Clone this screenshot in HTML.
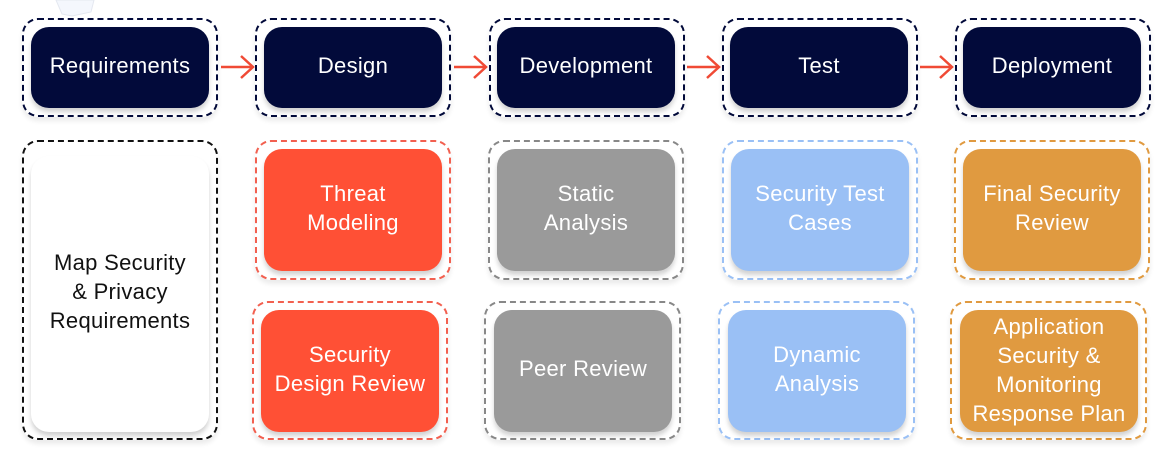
<!DOCTYPE html>
<html><head><meta charset="utf-8"><style>
body{margin:0;width:1167px;height:454px;background:#fff;position:relative;overflow:hidden;font-family:"Liberation Sans",sans-serif}
.o{position:absolute;border:2px dashed;border-radius:16px;box-sizing:border-box;box-shadow:0 4px 5px rgba(0,0,0,0.08)}
.i{position:absolute;border-radius:18px;display:flex;align-items:center;justify-content:center;text-align:center;color:#fff;font-size:22px;letter-spacing:0.3px;line-height:29px;box-sizing:border-box;padding-bottom:5px;box-shadow:0 4px 5px rgba(0,0,0,0.18)}
.n{background:#020a3a}.r{background:#ff5035}.g{background:#9a9a9a}.b{background:#9ac0f5}.y{background:#e09a40}
</style></head><body>
<svg style="position:absolute;left:0;top:0" width="1167" height="454">
<polygon points="56,0 94,0 91,12 72,16 62,14" fill="#f4f7fd" stroke="#e4e8f0"/>
<g stroke="#f04a35" stroke-width="2.5" fill="none">
<path d="M221 67H253M241 56L253 67L241 78"/>
<path d="M454 67H486M474 56L486 67L474 78"/>
<path d="M687 67H719M707 56L719 67L707 78"/>
<path d="M920 67H952M940 56L952 67L940 78"/>
</g></svg>
<div class="o" style="left:22px;top:18px;width:196px;height:99px;border-color:#020a3a"></div>
<div class="i n" style="left:31px;top:27px;width:178px;height:81px">Requirements</div>
<div class="o" style="left:255px;top:18px;width:196px;height:99px;border-color:#020a3a"></div>
<div class="i n" style="left:264px;top:27px;width:178px;height:81px">Design</div>
<div class="o" style="left:489px;top:18px;width:196px;height:99px;border-color:#020a3a"></div>
<div class="i n" style="left:497px;top:27px;width:178px;height:81px">Development</div>
<div class="o" style="left:722px;top:18px;width:196px;height:99px;border-color:#020a3a"></div>
<div class="i n" style="left:730px;top:27px;width:178px;height:81px">Test</div>
<div class="o" style="left:955px;top:18px;width:196px;height:99px;border-color:#020a3a"></div>
<div class="i n" style="left:963px;top:27px;width:178px;height:81px">Deployment</div>

<div class="o" style="left:22px;top:140px;width:196px;height:300px;border-color:#111"></div>
<div class="i" style="left:31px;top:156px;width:178px;height:276px;background:#fff;color:#111">Map Security<br>&amp; Privacy<br>Requirements</div>

<div class="o" style="left:255px;top:140px;width:196px;height:140px;border-color:#f26050"></div>
<div class="i r" style="left:264px;top:149px;width:178px;height:122px">Threat<br>Modeling</div>
<div class="o" style="left:252px;top:301px;width:196px;height:139px;border-color:#f26050"></div>
<div class="i r" style="left:261px;top:310px;width:178px;height:122px">Security<br>Design Review</div>

<div class="o" style="left:488px;top:140px;width:196px;height:140px;border-color:#888"></div>
<div class="i g" style="left:497px;top:149px;width:178px;height:122px">Static<br>Analysis</div>
<div class="o" style="left:484px;top:301px;width:197px;height:139px;border-color:#888"></div>
<div class="i g" style="left:494px;top:310px;width:178px;height:122px">Peer Review</div>

<div class="o" style="left:722px;top:140px;width:196px;height:140px;border-color:#9ac0f5"></div>
<div class="i b" style="left:731px;top:149px;width:178px;height:122px">Security Test<br>Cases</div>
<div class="o" style="left:718px;top:301px;width:197px;height:139px;border-color:#9ac0f5"></div>
<div class="i b" style="left:728px;top:310px;width:178px;height:122px">Dynamic<br>Analysis</div>

<div class="o" style="left:954px;top:140px;width:196px;height:140px;border-color:#e09a40"></div>
<div class="i y" style="left:963px;top:149px;width:178px;height:122px">Final Security<br>Review</div>
<div class="o" style="left:950px;top:301px;width:197px;height:139px;border-color:#e09a40"></div>
<div class="i y" style="left:960px;top:310px;width:178px;height:122px;padding-bottom:2px">Application<br>Security &amp;<br>Monitoring<br>Response Plan</div>
</body></html>
